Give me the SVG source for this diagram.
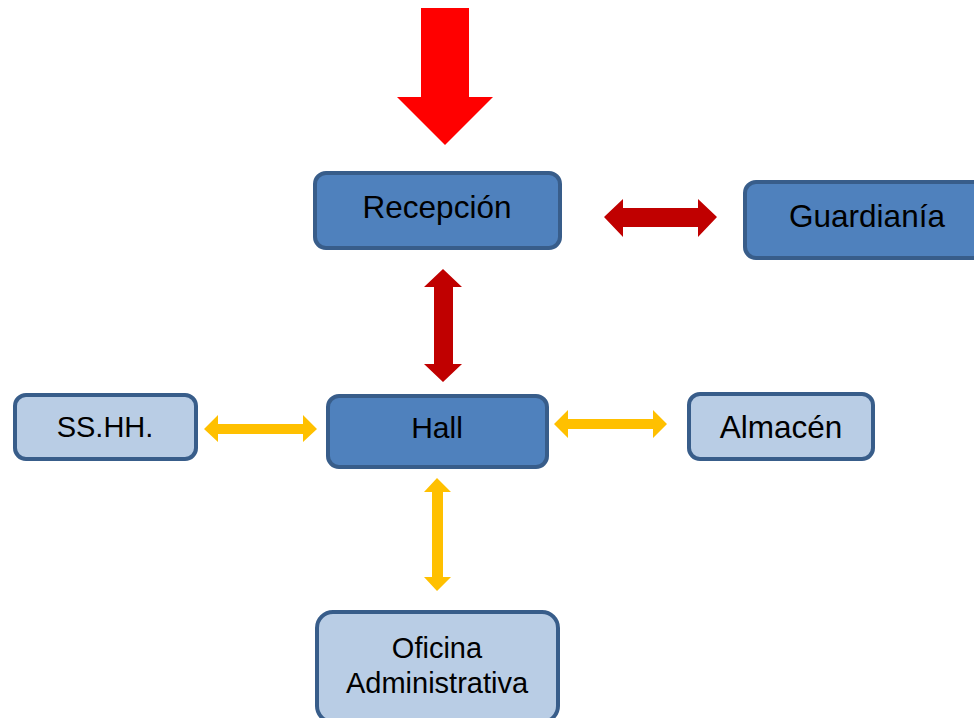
<svg xmlns="http://www.w3.org/2000/svg" width="974" height="718" viewBox="0 0 974 718">
<style>
.dark{fill:#4F81BD;stroke:#385D8A;stroke-width:4}
.light{fill:#B9CDE5;stroke:#385D8A;stroke-width:4}
text{font-family:"Liberation Sans",Arial,sans-serif;font-size:29px;fill:#000;text-anchor:middle}
.big{font-size:31.5px}
.red{fill:#FF0000}
.dred{fill:#C00000}
.yel{fill:#FFC000}
</style>
<rect width="974" height="718" fill="#fff"/>
<g id="connectors">
<polygon class="red" points="421,8 469,8 469,97 493,97 445,145 397,97 421,97"/>
<polygon class="dred" points="604,217 623,199 623,208 698,208 698,199 717,217 698,237 698,227 623,227 623,237"/>
<polygon class="dred" points="443,269 462,287 453,287 453,364 462,364 443,382 424,364 434,364 434,287 424,287"/>
<polygon class="yel" points="204,429 218,415 218,424 303,424 303,415 317,429 303,442 303,434 218,434 218,442"/>
<polygon class="yel" points="554,424 568,410 568,419 653,419 653,410 667,424 653,438 653,429 568,429 568,438"/>
<polygon class="yel" points="437,478 451,492 443,492 443,577 451,577 437,591 424,577 432,577 432,492 424,492"/>
</g>
<g id="recepcion">
<rect class="dark" x="315" y="173" width="245" height="75" rx="11"/>
<text class="big" x="437" y="218">Recepción</text>
</g>
<g id="guardiania">
<rect class="dark" x="745" y="182" width="260" height="76" rx="11"/>
<text class="big" x="867" y="227">Guardianía</text>
</g>
<g id="hall">
<rect class="dark" x="328" y="396" width="219" height="71" rx="11"/>
<text x="437" y="438" style="font-size:30px">Hall</text>
</g>
<g id="sshh">
<rect class="light" x="15" y="395" width="181" height="64" rx="11"/>
<text x="105" y="437">SS.HH.</text>
</g>
<g id="almacen">
<rect class="light" x="689" y="394" width="184" height="65" rx="11"/>
<text class="big" x="781" y="438">Almacén</text>
</g>
<g id="oficina">
<rect class="light" x="317" y="612" width="241" height="110" rx="16"/>
<text x="437" y="658">Oficina</text>
<text x="437" y="693">Administrativa</text>
</g>
</svg>
